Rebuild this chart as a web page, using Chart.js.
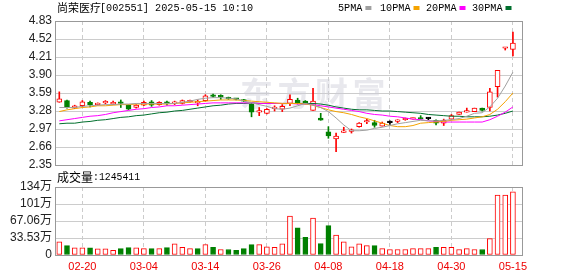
<!DOCTYPE html>
<html><head><meta charset="utf-8">
<script src="https://cdn.jsdelivr.net/npm/chart.js@4.4.1/dist/chart.umd.min.js"></script>
<style>
html,body{margin:0;padding:0;background:#fff;}
#wrap{position:relative;width:578px;height:276px;overflow:hidden;}
canvas{position:absolute;left:0;top:0;}
</style></head><body>
<div id="wrap"><canvas id="k" width="578" height="276"></canvas><canvas id="v" width="578" height="276"></canvas></div>
<script>
// ---------- data ----------
const stockTitle = '尚荣医疗';
const stockCode = '[002551] 2025-05-15 10:10';
const seriesNames = ['5PMA','10PMA','20PMA','30PMA'];
const dates = ['02-17','02-18','02-19','02-20','02-21','02-24','02-25','02-26','02-27','02-28',
 '03-03','03-04','03-05','03-06','03-07','03-10','03-11','03-12','03-13','03-14',
 '03-17','03-18','03-19','03-20','03-21','03-24','03-25','03-26','03-27','03-28',
 '03-31','04-01','04-02','04-03','04-07','04-08','04-09','04-10','04-11','04-14',
 '04-15','04-16','04-17','04-18','04-21','04-22','04-23','04-24','04-25','04-28',
 '04-29','04-30','05-06','05-07','05-08','05-09','05-12','05-13','05-14','05-15'];
const open  = [3.43,3.46,3.33,3.37,3.43,3.39,3.42,3.40,3.42,3.38, 3.34,3.38,3.44,3.39,3.42,3.41,3.41,3.44,3.42,3.46,
 3.56,3.55,3.50,3.49,3.47,3.40,3.26,3.24,3.32,3.31, 3.41,3.47,3.45,3.29,3.16,2.92,2.80,2.91,2.93,3.01,
 3.09,3.08,3.02,3.08,3.10,3.13,3.14,3.16,3.15,3.12, 3.07,3.14,3.22,3.26,3.27,3.33,3.34,3.70,4.36,4.34];
const high  = [3.61,3.47,3.38,3.46,3.45,3.42,3.46,3.45,3.47,3.39, 3.39,3.45,3.46,3.44,3.45,3.45,3.47,3.47,3.47,3.56,
 3.57,3.56,3.52,3.50,3.48,3.41,3.34,3.32,3.37,3.39, 3.56,3.50,3.46,3.67,3.24,3.01,2.90,3.00,2.97,3.08,
 3.14,3.12,3.09,3.11,3.13,3.16,3.16,3.20,3.17,3.13, 3.14,3.22,3.26,3.33,3.33,3.33,3.67,3.98,4.37,4.64];
const low   = [3.43,3.33,3.32,3.35,3.35,3.38,3.40,3.39,3.34,3.30, 3.33,3.37,3.36,3.38,3.38,3.39,3.40,3.43,3.37,3.45,
 3.52,3.48,3.48,3.47,3.44,3.18,3.20,3.23,3.28,3.27, 3.37,3.40,3.40,3.29,3.12,2.81,2.58,2.91,2.90,3.00,
 3.06,3.00,3.02,3.05,3.08,3.12,3.14,3.14,3.13,3.04, 3.03,3.14,3.22,3.26,3.27,3.28,3.28,3.52,4.33,4.23];
const close = [3.49,3.34,3.37,3.44,3.39,3.40,3.43,3.43,3.41,3.31, 3.38,3.43,3.38,3.43,3.41,3.42,3.46,3.45,3.43,3.54,
 3.53,3.52,3.49,3.48,3.45,3.26,3.27,3.31,3.33,3.36, 3.48,3.41,3.41,3.45,3.12,2.85,2.85,2.94,2.94,3.07,
 3.10,3.03,3.07,3.08,3.11,3.14,3.15,3.14,3.15,3.07, 3.12,3.20,3.26,3.27,3.33,3.29,3.61,3.98,4.37,4.45];
const ma5  = [3.34,3.34,3.34,3.36,3.37,3.38,3.39,3.39,3.40,3.40, 3.41,3.41,3.41,3.41,3.41,3.41,3.43,3.45,3.48,3.50,
 3.51,3.51,3.50,3.49,3.45,3.42,3.39,3.36,3.32,3.31, 3.33,3.37,3.41,3.38,3.34,3.27,3.16,3.04,2.94,2.94,
 2.95,2.98,3.00,3.03,3.06,3.08,3.10,3.12,3.11,3.11, 3.12,3.13,3.15,3.19,3.24,3.25,3.35,3.50,3.71,3.95];
const ma10 = [3.27,3.30,3.32,3.34,3.35,3.37,3.37,3.38,3.39,3.39, 3.40,3.40,3.40,3.40,3.40,3.41,3.42,3.43,3.44,3.45,
 3.46,3.47,3.47,3.47,3.46,3.45,3.44,3.43,3.42,3.41, 3.41,3.41,3.40,3.38,3.34,3.30,3.27,3.25,3.22,3.18,
 3.15,3.11,3.07,3.03,3.01,3.01,3.03,3.07,3.08,3.09, 3.10,3.12,3.13,3.14,3.16,3.18,3.22,3.31,3.44,3.59];
const ma20 = [3.11,3.13,3.15,3.17,3.19,3.20,3.22,3.25,3.27,3.29, 3.31,3.32,3.34,3.35,3.37,3.37,3.38,3.39,3.40,3.41,
 3.42,3.42,3.42,3.42,3.42,3.42,3.41,3.41,3.41,3.41, 3.41,3.40,3.40,3.39,3.37,3.35,3.33,3.31,3.29,3.27,
 3.24,3.22,3.21,3.19,3.18,3.16,3.14,3.13,3.11,3.10, 3.09,3.09,3.09,3.09,3.09,3.09,3.13,3.19,3.26,3.35];
const ma30 = [3.06,3.07,3.07,3.09,3.10,3.12,3.13,3.15,3.17,3.18, 3.20,3.21,3.23,3.25,3.26,3.28,3.29,3.31,3.33,3.35,
 3.37,3.38,3.40,3.41,3.41,3.42,3.41,3.41,3.41,3.41, 3.41,3.41,3.41,3.41,3.40,3.38,3.35,3.33,3.31,3.30,
 3.30,3.29,3.28,3.28,3.27,3.26,3.25,3.24,3.22,3.21, 3.20,3.19,3.19,3.18,3.18,3.18,3.19,3.21,3.24,3.28];
// volume in 万 (10k)
const volume = [25.8,18.6,14.1,14.1,14.1,12.1,12.1,9.4,12.7,14.7, 14.1,12.7,12.7,12.7,14.7,21.9,15.3,12.7,12.7,20.6,
 15.3,10.8,10.8,9.4,12.7,20.6,20.6,16.1,15.3,21.9, 76.7,53.8,34.9,72.8,22.5,57.8,39.5,25.8,16.1,21.9,
 18.6,18.6,12.7,10.8,10.8,10.8,12.7,12.7,12.7,15.3, 15.3,15.3,10.8,12.7,10.8,10.8,32.3,118,118,124.5411];
const volUp = [1,0,1,1,0,1,1,1,0,0, 1,1,0,1,0,1,1,1,0,1, 0,1,0,0,0,0,1,1,1,1, 1,0,0,1,0,0,1,1,1,1, 1,0,1,1,1,1,1,1,1,0, 1,1,1,1,1,0,1,1,1,1];
const priceTicks = [2.35,2.66,2.97,3.28,3.59,3.90,4.21,4.52,4.83];
const volTicks = [0,33.53,67.06,100.59,134.12];
const volTickLabels = ['0','33.53万','67.06万','101万','134万'];
const xTickIdx = [3,11,19,27,35,43,51,59];
const xTickLabels = xTickIdx.map(i => dates[i]);

// ---------- styling ----------
const RED = '#ff0000', GREEN = '#008000', DOJI = '#000000';
const MA_COLORS = ['#a0a0a0','#f5a300','#ff00ff','#006f2d'];
const GRID = '#cccccc';
Chart.defaults.font.family = '"Liberation Sans", "Noto Sans CJK SC", sans-serif';
Chart.defaults.font.size = 12;
Chart.defaults.color = '#222';

const idx = dates.map((d, i) => i);
const cColor = idx.map(i => close[i] > open[i] ? RED : (close[i] < open[i] ? GREEN : DOJI));
const cFill = idx.map(i => close[i] > open[i] ? '#ffffff' : cColor[i]);
const X_MIN = -0.56, X_MAX = 60.18;

function xAxis(show) {
  return {
    type: 'linear', min: X_MIN, max: X_MAX, offset: false,
    grid: { offset: false, color: GRID, lineWidth: 1, drawTicks: false },
    border: { display: false, dash: [4, 3] },
    afterBuildTicks: s => { s.ticks = xTickIdx.map(v => ({ value: v })); },
    ticks: { display: show, color: '#ee0000', font: { size: 11 }, padding: 5, maxRotation: 0, autoSkip: false,
             callback: (v, k) => xTickLabels[k] },
    afterFit: s => { s.height = show ? 21 : 0; }
  };
}
const framePlugin = {
  id: 'frame',
  afterDraw(chart) {
    const a = chart.chartArea, c = chart.ctx;
    c.save(); c.strokeStyle = '#999'; c.lineWidth = 1;
    c.strokeRect(Math.round(a.left) + 0.5, Math.round(a.top) + 0.5, Math.round(a.right - a.left), Math.round(a.bottom - a.top));
    c.restore();
  }
};
const textPlugin = {
  id: 'texts',
  beforeDatasetsDraw(chart) {
    const c = chart.ctx; c.save();
    c.fillStyle = 'rgba(205,205,215,0.45)';
    c.font = 'bold 33px "Noto Sans CJK SC"'; c.textBaseline = 'middle';
    ['东','方','财','富'].forEach((ch, k) => c.fillText(ch, 240 + k * 37.5, 93));
    c.restore();
  },
  afterDraw(chart) {
    const c = chart.ctx; c.save();
    c.textBaseline = 'middle'; c.fillStyle = '#000';
    c.font = '11px "Noto Sans CJK SC"';
    c.fillText(stockTitle, 57, 7.5);
    c.font = '11px "Liberation Mono"';
    c.fillText(stockCode, 100, 8, 153);
    const lx = [338, 380, 426, 472];
    seriesNames.forEach((n, k) => {
      c.fillStyle = '#000'; c.font = '11px "Liberation Mono"';
      c.fillText(n, lx[k], 8, n.length * 6.1);
      const w = n.length * 6.1;
      c.fillStyle = MA_COLORS[k];
      c.fillRect(lx[k] + w + 3, 6, 6, 4);
    });
    c.fillStyle = '#000';
    c.font = '12px "Noto Sans CJK SC"';
    c.fillText('成交量', 57, 177);
    c.font = '11px "Liberation Mono"';
    const vtxt = ':' + Math.round(volume[volume.length - 1] * 10000);
    c.fillText(vtxt, 93, 177.5, 47);
    c.restore();
  }
};

const maSets = [ma5, ma10, ma20, ma30].map((arr, k) => ({
  type: 'line', label: seriesNames[k], data: idx.map(i => ({ x: i, y: arr[i] })),
  borderColor: MA_COLORS[k], borderWidth: 1, pointRadius: 0, tension: 0, order: 0, fill: false
}));

new Chart(document.getElementById('k'), {
  type: 'line',
  data: { datasets: [
    ...maSets,
    { type: 'bar', label: 'body', data: idx.map(i => ({ x: i, y: [open[i], close[i]] })),
      backgroundColor: cFill, borderColor: cColor, borderWidth: 1, borderSkipped: false,
      barThickness: 5, minBarLength: 1.5, grouped: false, order: 1 },
    { type: 'bar', label: 'wick', data: idx.map(i => ({ x: i, y: [low[i], high[i]] })),
      backgroundColor: cColor, borderWidth: 0, barThickness: 1, grouped: false, order: 2 }
  ]},
  options: {
    responsive: false, animation: false, devicePixelRatio: 1, events: [],
    layout: { padding: { left: 0, top: 21, right: 56, bottom: 111 } },
    plugins: { legend: { display: false }, tooltip: { enabled: false } },
    scales: {
      x: xAxis(false),
      y: { type: 'linear', min: 2.35, max: 4.83,
           afterBuildTicks: s => { s.ticks = priceTicks.map(v => ({ value: v })); },
           grid: { color: GRID, drawTicks: false }, border: { display: false },
           ticks: { padding: 3, color: '#222', font: { size: 12 }, autoSkip: false, callback: v => Number(v).toFixed(2) },
           afterFit: s => { s.width = 55; } }
    }
  },
  plugins: [textPlugin, framePlugin]
});

new Chart(document.getElementById('v'), {
  type: 'line',
  data: { datasets: [
    { type: 'bar', label: 'vol', data: idx.map(i => ({ x: i, y: volume[i] })),
      backgroundColor: idx.map(i => volUp[i] ? '#ffffff' : GREEN),
      borderColor: idx.map(i => volUp[i] ? RED : GREEN),
      borderWidth: 1, borderSkipped: false, barThickness: 5, grouped: false }
  ]},
  options: {
    responsive: false, animation: false, devicePixelRatio: 1, events: [],
    layout: { padding: { left: 0, top: 187, right: 56, bottom: 0 } },
    plugins: { legend: { display: false }, tooltip: { enabled: false } },
    scales: {
      x: xAxis(true),
      y: { type: 'linear', min: 0, max: 134.12,
           afterBuildTicks: s => { s.ticks = volTicks.map(v => ({ value: v })); },
           grid: { color: GRID, drawTicks: false }, border: { display: false },
           ticks: { padding: 3, color: '#222', font: { size: 12 }, autoSkip: false, callback: (v, k) => volTickLabels[k] },
           afterFit: s => { s.width = 55; } }
    }
  },
  plugins: [framePlugin]
});
</script>
</body></html>
